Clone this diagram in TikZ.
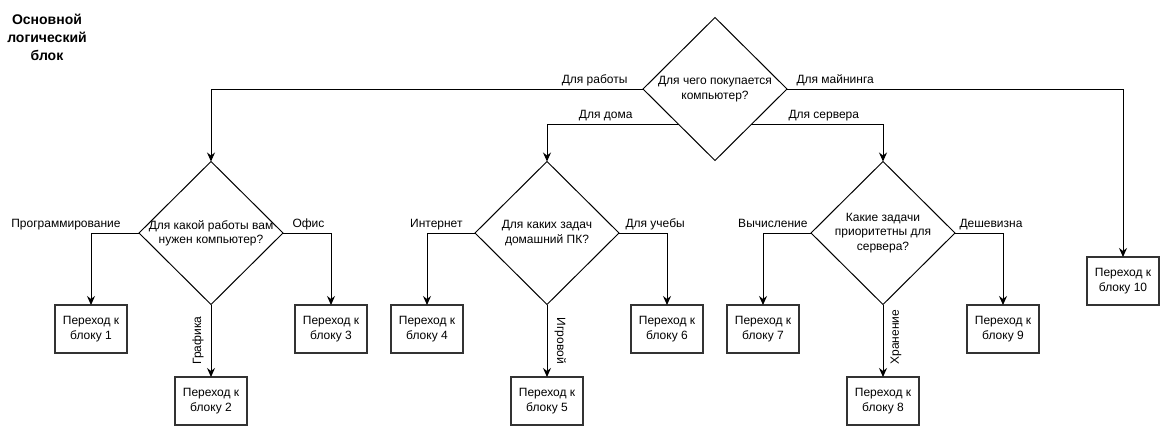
\documentclass[tikz,border=0pt]{standalone}
\usepackage{fontspec}
\setmainfont{Liberation Sans}
\usetikzlibrary{shapes.geometric,arrows.meta}

\begin{document}
\begin{tikzpicture}[x=1pt,y=-1pt,
  decision/.style={diamond,draw,line width=1pt,minimum width=144pt,minimum height=143pt,inner sep=0pt,outer sep=0pt},
  block/.style={rectangle,draw=black!80,line width=1.3pt,minimum width=72pt,minimum height=48pt,inner sep=0pt,outer sep=0pt,align=center,font=\fontsize{12}{14.4}\selectfont},
  lbl/.style={font=\fontsize{12}{14.4}\selectfont,inner sep=3pt,text depth=2.5pt},
  vlbl/.style={lbl,inner sep=7pt},
  qtext/.style={align=center,font=\fontsize{12}{14.4}\selectfont},
  arr/.style={line width=1pt,-{Stealth[length=9pt,width=8pt,inset=3pt]}}]
\useasboundingbox (0,0) rectangle (1175,439);

\node [align=center,font=\fontsize{14}{18}\selectfont\bfseries] (ttl) at (47,37) {Основной\\логический\\блок};

\node [decision,label={[qtext]center:Для чего покупается\\компьютер?}] (q0) at (715,89) {};
\node [decision,label={[qtext]center:Для какой работы вам\\нужен компьютер?}] (q1) at (211,233) {};
\node [decision,label={[qtext]center:Для каких задач\\домашний ПК?}] (q2) at (547,233) {};
\node [decision,label={[qtext]center:Какие задачи\\приоритетны для\\сервера?}] (q3) at (883,233) {};

\node [block] (b1) at (91,329) {Переход к\\блоку 1};
\node [block] (b2) at (211,401) {Переход к\\блоку 2};
\node [block] (b3) at (331,329) {Переход к\\блоку 3};
\node [block] (b4) at (427,329) {Переход к\\блоку 4};
\node [block] (b5) at (547,401) {Переход к\\блоку 5};
\node [block] (b6) at (667,329) {Переход к\\блоку 6};
\node [block] (b7) at (763,329) {Переход к\\блоку 7};
\node [block] (b8) at (883,401) {Переход к\\блоку 8};
\node [block] (b9) at (1003,329) {Переход к\\блоку 9};
\node [block] (b10) at (1123,281) {Переход к\\блоку 10};

\draw [arr] (q0.west) -| node[lbl,at start,anchor=south east,xshift=-12pt]{Для работы} (q1.north);
\draw [arr] (q0.east) -| node[lbl,at start,anchor=south west,xshift=6pt]{Для майнинга} (b10.north);
\draw [arr] (q0.south west) -| node[lbl,at start,anchor=south east,xshift=-43pt]{Для дома} (q2.north);
\draw [arr] (q0.south east) -| node[lbl,at start,anchor=south west,xshift=34pt]{Для сервера} (q3.north);

\draw [arr] (q1.west) -| node[lbl,at start,anchor=south east,xshift=-15pt]{Программирование} (b1.north);
\draw [arr] (q1.east) -| node[lbl,at start,anchor=south west,xshift=6pt]{Офис} (b3.north);
\draw [arr] (q1.south) -- node[vlbl,midway,rotate=90,anchor=south]{Графика} (b2.north);

\draw [arr] (q2.west) -| node[lbl,at start,anchor=south east,xshift=-9pt]{Интернет} (b4.north);
\draw [arr] (q2.east) -| node[lbl,at start,anchor=south west,xshift=3pt]{Для учебы} (b6.north);
\draw [arr] (q2.south) -- node[vlbl,midway,rotate=-90,anchor=south]{Игровой} (b5.north);

\draw [arr] (q3.west) -| node[lbl,at start,anchor=south east,xshift=0pt]{Вычисление} (b7.north);
\draw [arr] (q3.east) -| node[lbl,at start,anchor=south west,xshift=1pt]{Дешевизна} (b9.north);
\draw [arr] (q3.south) -- node[vlbl,pos=.45,rotate=90,anchor=north]{Хранение} (b8.north);
\end{tikzpicture}
\end{document}
